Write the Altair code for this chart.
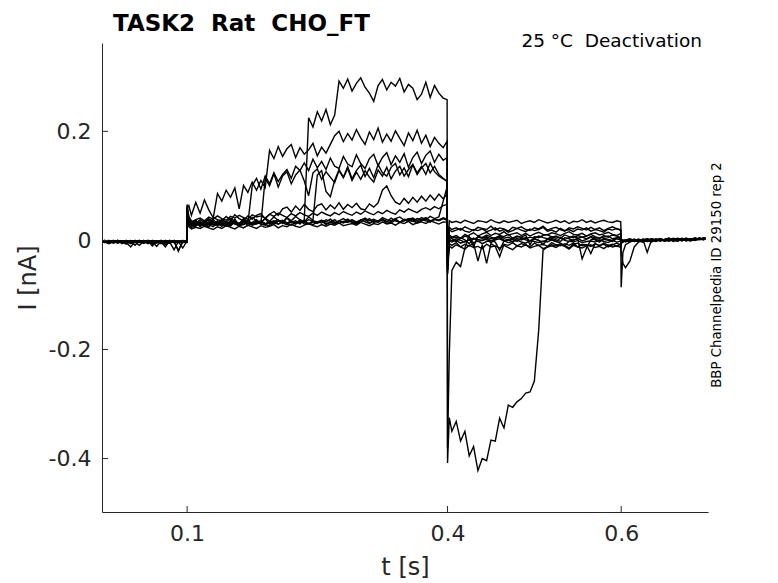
import altair as alt
import pandas as pd

# ---------------- text ----------------
NB = "\u00a0"  # keeps the double spaces of the original labels
TITLE = "TASK2" + NB + " Rat" + NB + " CHO_FT"
SUBTITLE = "25 °C" + NB + " Deactivation"
SIDE_NOTE = "BBP Channelpedia ID 29150 rep 2"
X_TITLE = "t [s]"
Y_TITLE = "I [nA]"
X_TICKS = [0.1, 0.4, 0.6]
Y_TICKS = [-0.4, -0.2, 0, 0.2]

# ---------------- sample times (s) per protocol segment ----------------
T_PRE = [0.002, 0.005, 0.01, 0.015, 0.02, 0.025, 0.03, 0.035, 0.04, 0.045, 0.05,
         0.055, 0.06, 0.065, 0.07, 0.075, 0.08, 0.085, 0.09, 0.095, 0.0995]
T_STEP = [0.1, 0.102, 0.105, 0.11, 0.115, 0.12, 0.125, 0.13, 0.135, 0.14, 0.145,
          0.15, 0.155, 0.16, 0.165, 0.17, 0.175, 0.18, 0.185, 0.19, 0.195, 0.2,
          0.205, 0.21, 0.215, 0.22, 0.225, 0.23, 0.235, 0.24, 0.245, 0.25, 0.255,
          0.26, 0.265, 0.27, 0.275, 0.28, 0.285, 0.29, 0.295, 0.3, 0.305, 0.31,
          0.315, 0.32, 0.325, 0.33, 0.335, 0.34, 0.345, 0.35, 0.355, 0.36, 0.365,
          0.37, 0.375, 0.38, 0.385, 0.39, 0.395, 0.3995]
T_TAIL = [0.4, 0.402, 0.405, 0.41, 0.415, 0.42, 0.425, 0.43, 0.435, 0.44, 0.445,
          0.45, 0.455, 0.46, 0.465, 0.47, 0.475, 0.48, 0.485, 0.49, 0.495, 0.5,
          0.505, 0.51, 0.515, 0.52, 0.525, 0.53, 0.535, 0.54, 0.545, 0.55, 0.555,
          0.56, 0.565, 0.57, 0.575, 0.58, 0.585, 0.59, 0.595, 0.5995]
T_END = [0.6, 0.602, 0.605, 0.61, 0.615, 0.62, 0.625, 0.63, 0.635, 0.64, 0.645,
         0.65, 0.655, 0.66, 0.665, 0.67, 0.675, 0.68, 0.685, 0.69, 0.695, 0.697]

# ---------------- currents (pA) ----------------
PRE = {
    "s1": [-1, -3, 0, -5, -2, -1, -4, -12, -2, 0, -3, -1, -6, -2, -1, -3, 0, -2, -18, -3, -1],
    "s2": [-2, -4, -1, -3, 0, -6, -2, -1, -3, -9, -2, 0, -4, -1, -2, -5, -1, -3, -2, -14, -2],
    "s3": [-3, -1, -5, -2, 0, -3, -7, -1, -2, -4, 0, -3, -2, -11, -1, -3, -5, 0, -2, -4, -3],
    "s4": [-2, 0, -4, -1, -3, -2, 0, -5, -1, -3, -2, -6, 0, -2, -4, -1, -3, -17, -2, -1, -3],
    "s5": [-1, -3, 0, -2, -4, -1, -2, 0, -3, -1, -5, -2, 0, -3, -1, -2, -4, 0, -2, -1, -3],
    "s6": [-2, -1, -4, 0, -3, -2, -1, -6, -2, 0, -3, -1, -2, -4, 0, -8, -2, -1, -3, 0, -2],
    "s7": [-3, 0, -2, -1, -4, -2, 0, -3, -1, -2, -5, 0, -2, -1, -3, -2, 0, -4, -1, -2, -1],
    "s8": [-4, -2, -1, -3, 0, -2, -5, -1, -3, -2, 0, -4, -1, -2, -3, -12, -1, -2, -4, 0, -2],
    "s9": [-1, -3, -6, -2, 0, -4, -1, -2, -9, -1, -3, 0, -2, -5, -1, -3, 0, -2, -20, -1, -2],
    "s10": [-2, -4, -1, 0, -3, -1, -5, -2, 0, -3, -1, -2, -7, -1, -3, 0, -2, -4, -1, -3, -2],
    "s11": [-3, -1, -2, -4, 0, -2, -1, -3, -2, 0, -4, -1, -3, -2, -6, 0, -2, -1, -3, -2, -4],
    "s12": [-2, 0, -3, -1, -5, -2, -1, -3, 0, -2, -4, -1, -10, -2, 0, -3, -1, -2, -4, -1, -3],
}

STEP = {
    "s1": [62, 42, 30, 36, 27, 34, 29, 38, 31, 26, 35, 30, 39, 28, 33, 37, 29, 36, 32, 40,
           30, 35, 38, 31, 41, 33, 36, 30, 38,
           225, 208, 236, 219, 240, 212, 230,
           292, 279, 296, 274, 288, 298, 281, 270, 255, 284, 295, 276, 290, 283, 297, 272,
           286, 279, 258, 268, 290, 262, 284, 270, 261, 258],
    "s2": [56, 38, 30, 37, 28, 34, 31, 40,
           86, 72, 92, 79, 96, 58, 101, 88, 107, 92, 110, 97,
           165, 150, 172, 154, 168, 176, 152, 170, 158, 166, 178, 155, 171, 160, 176,
           192, 200, 181, 196, 184, 203, 188, 176, 199, 185, 206, 180, 195, 182, 201, 187,
           174, 197, 183, 202, 178, 193, 172, 189, 178, 170, 182],
    "s3": [48, 36, 27, 35, 25, 33, 38, 28, 36, 29, 26, 37, 32, 28, 39, 31,
           100, 114, 94, 118, 104, 124, 108, 121, 130, 114, 136, 128,
           142, 128, 149, 133, 145, 130, 151, 136, 132, 154, 140, 135, 157, 141, 132, 150,
           158, 137, 152, 161, 139, 155, 143, 159, 134, 152, 162, 141, 156, 164, 143, 158,
           147, 152],
    "s4": [52, 36, 30, 26, 35, 29, 25, 34, 28, 36, 30, 26, 35, 28, 37, 27, 33, 38, 30,
           114, 100, 122, 98, 118, 126, 104, 120, 129, 109, 82, 124, 131, 112, 126, 116,
           106, 128, 115, 132, 110, 125, 112, 128, 116, 107, 129, 118, 134, 113, 127, 136,
           118, 130, 139, 121, 133, 141, 124, 136, 121, 114, 108],
    "s5": [66, 44, 36, 31, 38, 33, 40, 34, 30, 39, 33, 41, 35, 31, 40, 34, 42, 36, 32, 41,
           35, 43, 37, 33, 42, 36, 44, 38, 34, 43, 37,
           120, 128, 90, 80, 110, 130, 116, 135, 113, 128, 138, 117, 132, 115, 139, 124,
           118, 134, 141, 120, 133, 117, 139, 124, 136, 121, 142, 126, 118, 113, 108],
    "s6": [60, 64, 46, 70, 50, 74, 56, 42, 38, 36, 44, 37, 47, 40, 36, 45, 39, 46, 49, 40,
           48, 53, 46, 58, 61, 52, 63, 55, 66, 57, 53, 64, 67, 56, 65, 58, 69, 57, 66, 60,
           68, 58, 56, 67, 61, 69, 92, 100, 82, 70, 66, 77, 68, 79, 70, 81, 72, 83, 74, 85,
           76, 86],
    "s7": [45, 33, 29, 32, 27, 31, 34, 30, 28, 33, 30, 35, 31, 28, 34, 32, 29, 33, 36, 30,
           34, 31, 35, 37, 32, 34, 30, 36, 33, 38, 35, 31, 37, 34, 39, 33, 36, 40, 35, 38,
           34, 37, 41, 36, 39, 35, 42, 38, 36, 40, 43, 37, 39, 41, 36, 42, 38, 44, 40, 43,
           72, 98],
    "s8": [50, 40, 34, 38, 41, 36, 43, 39, 45, 40, 37, 44, 41, 46, 42, 39, 47, 43, 45, 41,
           48, 44, 50, 46, 42, 49, 45, 51, 47, 44, 50, 46, 52, 48, 45, 51, 47, 53, 49, 46,
           52, 48, 54, 50, 47, 53, 49, 55, 51, 48, 56, 52, 58, 54, 51, 57, 60, 56, 62, 58,
           64, 66],
    "s9": [40, 30, 26, 29, 32, 27, 30, 33, 28, 31, 29, 34, 30, 27, 32, 35, 29, 33, 30, 28,
           34, 31, 36, 32, 29, 35, 31, 33, 37, 30, 34, 32, 36, 29, 33, 38, 31, 35, 33, 37,
           30, 34, 39, 32, 36, 34, 38, 31, 35, 40, 33, 37, 35, 39, 32, 36, 41, 34, 38, 36,
           40, 37],
    "s10": [35, 28, 24, 27, 30, 26, 29, 25, 31, 28, 26, 30, 33, 27, 29, 32, 28, 31, 34, 29,
            27, 32, 30, 35, 31, 28, 33, 36, 30, 32, 29, 34, 37, 31, 33, 30, 35, 32, 36, 33,
            30, 38, 34, 31, 36, 33, 39, 35, 32, 37, 34, 36, 40, 35, 33, 38, 36, 34, 39, 37,
            41, 38],
    "s11": [30, 25, 21, 24, 22, 26, 23, 20, 25, 22, 27, 24, 21, 26, 23, 28, 25, 22, 27, 24,
            26, 29, 23, 27, 25, 30, 26, 24, 28, 31, 27, 25, 29, 26, 30, 28, 32, 27, 29, 31,
            28, 33, 30, 27, 31, 29, 34, 30, 32, 28, 33, 31, 35, 29, 32, 34, 31, 36, 33, 30,
            34, 33],
    "s12": [42, 31, 27, 30, 33, 28, 31, 29, 34, 30, 32, 28, 33, 31, 29, 35, 32, 30, 34, 31,
            33, 36, 30, 34, 32, 35, 31, 37, 33, 30, 36, 34, 32, 38, 35, 31, 36, 33, 39, 34,
            32, 37, 35, 40, 33, 36, 38, 34, 41, 36, 33, 39, 37, 35, 40, 38, 42, 36, 39, 37,
            41, 39],
}

TAIL = {
    "s1": [-408, -325, -350, -332, -368, -350, -395, -378, -422, -400, -404, -366, -368,
           -326, -344, -302, -306, -296, -290, -280, -278, -258, -165, -18,
           -12, -8, -10, -6, -9, -14, -7, -5, -10, -8, -11, -6, -9, -7, -12, -8, -5, -9],
    "s2": [-380, -210, -55, -40, -48, -14,
           10, 14, 8, 12, 15, 9, 13, 11, 16, 10, 12, 14, 9, 13, 8, 12, 15, 11, 10, 14,
           12, 9, 13, 16, 11, 10, 13, 8, 12, 14, 10, 12, 15, 11, 9, 13],
    "s3": [-45, 24, 20, 23, 19, 25, 21, 18, 24, 22, 20, 26, 19, 23, 21, 17, 24, 22, 25, 20,
           18, 23, 21, 26, 19, 22, 24, 20, 17, 23, 21, 25, 22, 19, 24, 20, 23, 18, 22, 25,
           21, 20],
    "s4": [-60, 10, 6, 9, 4, 11, 7, -12, 8, 5, 10, 6, 3, 9, 7, 11, 4, 8, 6, 10, -8, 7,
           5, 9, 11, 6, 8, 4, 10, 7, 5, 9, 6, 8, 11, 7, 4, 9, 6, 10, 8, 5],
    "s5": [-52, 2, -1, 3, 0, -3, 1, 4, -2, 0, 2, -4, 1, 3, -1, 0, 2, -2, 4, 1, -1, 3,
           0, -3, 2, 1, -2, 4, 0, -2, 1, 3, -34, -14, 1, 3, -1, 2, 0, -2, 3, 1],
    "s6": [-38, 20, 16, 19, 22, 17, 15, 20, 18, 21, 16, 19, 23, 17, 20, 15, 18, 22, 19, 16,
           21, 18, 20, 24, 17, 19, 15, 22, 18, 20, 16, 21, 19, 23, 17, 20, 18, 15, 21, 19,
           22, 18],
    "s7": [-20, 36, 33, 35, 32, 37, 34, 31, 36, 35, 33, 38, 34, 32, 36, 33, 35, 37, 31, 34,
           36, 33, 38, 35, 32, 34, 37, 33, 36, 31, 35, 34, 38, 33, 36, 32, 35, 37, 34, 33,
           36, 34],
    "s8": [-48, 6, 3, -2, 5, 1, -6, 4, 2, 0, 5, -1, 3, 6, 0, 2, -3, 4, 1, 5, -1, 3,
           0, -8, 2, 4, 1, -2, 5, 3, 0, 4, -1, 2, 6, 1, -3, 4, 2, 0, 5, 3],
    "s9": [-30, -6, -9, -4, -12, -7, -10, -5, -38, -8, -42, -6, -11, -30, -7, -9, -4, -10,
           -6, -8, -12, -5, -9, -7, -11, -4, -8, -10, -6, -9, -5, -12, -7, -8, -24, -6, -10,
           -5, -9, -7, -11, -6],
    "s10": [-55, -1, -3, 0, -5, -2, 1, -4, -1, -6, -2, 0, -3, -18, -1, -4, -2, 1, -3, -5,
            0, -2, -4, -1, -3, 1, -2, -5, -10, -1, -3, 0, -4, -2, -1, -3, 1, -2, -4, 0,
            -3, -1],
    "s11": [-40, 7, 4, 6, 3, 8, 5, 2, 6, 4, 7, 3, 5, 8, 4, 6, 2, 7, 5, 3, 6, 4, 8, 5, 3,
            7, 4, 6, 2, 5, 8, 4, 6, 3, 7, 5, 4, 6, 8, 3, 5, 6],
    "s12": [-62, -10, -14, -8, -12, -16, -9, -13, -11, -15, -7, -12, -10, -14, -9, -13, -17,
            -10, -12, -8, -14, -11, -9, -15, -12, -10, -13, -8, -11, -16, -9, -12, -14, -10,
            -8, -13, -11, -15, -9, -12, -10, -13],
}

END = {
    "s1": [-4, -2, 1, -1, 2, 0, -3, 1, 3, 0, 2, -1, 1, 4, 2, 0, 3, 1, 5, 2, 4, 3],
    "s2": [-2, 0, -3, 1, -1, 2, 0, -2, 3, 1, -1, 2, 4, 0, 1, 3, -1, 2, 4, 1, 3, 5],
    "s3": [-1, 1, -2, 0, 2, -1, 1, 3, 0, -2, 2, 1, 4, 0, 2, -1, 3, 1, 2, 4, 2, 4],
    "s4": [-86, -22, -8, -3, 0, -2, 1, -1, 2, 0, 3, 1, -1, 2, 4, 1, 0, 3, 2, 4, 3, 5],
    "s5": [-20, -42, -50, -38, -12, -3, 0, -2, 1, -1, 2, 0, 3, 1, -1, 2, 4, 1, 3, 2, 4, 3],
    "s6": [-3, 0, -1, 2, -2, 1, 0, 3, -1, 2, 1, -1, 3, 0, 2, 4, 1, 3, 0, 2, 5, 3],
    "s7": [2, -1, 1, 3, 0, -2, 2, 1, -1, 3, 0, 2, 4, 1, -1, 3, 2, 0, 4, 2, 3, 5],
    "s8": [-6, -3, 0, -2, 1, -1, 2, 0, -3, 1, 2, 0, 3, 1, -1, 2, 4, 1, 2, 3, 1, 4],
    "s9": [-2, 0, -1, 1, -2, 0, 2, -22, 1, 0, 3, -1, 2, 0, 1, 3, 1, -1, 2, 4, 2, 3],
    "s10": [-3, -1, 0, -2, 1, -1, 0, 2, -1, 1, 3, 0, -1, 2, 1, 3, 0, 2, 1, 4, 2, 3],
    "s11": [0, -2, 1, -1, 0, 2, -1, 1, 0, 2, -1, 1, 3, 0, 2, 1, 3, 0, 2, 4, 2, 4],
    "s12": [-1, -3, 0, -2, 1, -1, -3, 0, 2, -1, 1, 0, 2, -2, 1, 3, 0, 2, 1, 3, 2, 4],
}

# ---------------- table ----------------
TIMES = T_PRE + T_STEP + T_TAIL + T_END
rows = []
for name in PRE:
    assert len(PRE[name]) == len(T_PRE), (name, "pre", len(PRE[name]))
    assert len(STEP[name]) == len(T_STEP), (name, "step", len(STEP[name]))
    assert len(TAIL[name]) == len(T_TAIL), (name, "tail", len(TAIL[name]))
    assert len(END[name]) == len(T_END), (name, "end", len(END[name]))
    vals = PRE[name] + STEP[name] + TAIL[name] + END[name]
    for i, (t, v) in enumerate(zip(TIMES, vals)):
        rows.append({"trace": name, "i": i, "t": t, "I": v / 1000.0})
df = pd.DataFrame(rows)

W, H = 606, 469
FONT = "DejaVu Sans"
AX = "#262626"

xs = alt.Scale(domain=[0.002, 0.7], nice=False, zero=False)
ys = alt.Scale(domain=[-0.498, 0.362], nice=False, zero=False)

x_axis = alt.Axis(
    title=X_TITLE, values=X_TICKS, format=".1f", ticks=False, grid=False,
    labelFontSize=22, labelPadding=11, labelColor=AX, labelFont=FONT,
    labelOverlap=False, labelFlush=False,
    titleFontSize=24, titleFontWeight="normal", titleColor=AX, titleFont=FONT,
    titlePadding=11, domainColor=AX, domainWidth=1)
y_axis = alt.Axis(
    title=Y_TITLE, values=Y_TICKS, ticks=False, grid=False,
    labelExpr="datum.value == 0 ? '0' : (datum.value < 0 ? '-' + format(-datum.value, '.1f') : format(datum.value, '.1f'))",
    labelFontSize=22, labelPadding=11, labelColor=AX, labelFont=FONT,
    labelOverlap=False, labelFlush=False,
    titleFontSize=24, titleFontWeight="normal", titleColor=AX, titleFont=FONT,
    titlePadding=8, domainColor=AX, domainWidth=1)

lines = alt.Chart(df).mark_line(color="black", strokeWidth=1.4, clip=True).encode(
    x=alt.X("t:Q", scale=xs, axis=x_axis),
    y=alt.Y("I:Q", scale=ys, axis=y_axis),
    detail="trace:N",
    order="i:Q",
)

# inward tick marks (MATLAB style)
xticks = alt.Chart(pd.DataFrame({"t": X_TICKS})).mark_rule(color=AX, strokeWidth=1).encode(
    x=alt.X("t:Q", scale=xs, axis=x_axis), y=alt.value(H), y2=alt.value(H - 6))
yticks = alt.Chart(pd.DataFrame({"I": Y_TICKS})).mark_rule(color=AX, strokeWidth=1).encode(
    y=alt.Y("I:Q", scale=ys, axis=y_axis), x=alt.value(0), x2=alt.value(6))

one = pd.DataFrame({"k": [0]})
title = alt.Chart(one).mark_text(
    text=TITLE, font=FONT, fontSize=23, fontWeight="bold", color="black",
    align="left", baseline="alphabetic").encode(x=alt.value(11), y=alt.value(-12.5))
subtitle = alt.Chart(one).mark_text(
    text=SUBTITLE, font=FONT, fontSize=18.5, color="black",
    align="right", baseline="alphabetic").encode(x=alt.value(600), y=alt.value(3.5))
side = alt.Chart(one).mark_text(
    text=SIDE_NOTE, font=FONT, fontSize=13.3, color="black", angle=270,
    align="center", baseline="middle").encode(x=alt.value(614.5), y=alt.value(232))

chart = alt.layer(lines, xticks, yticks, title, subtitle, side).properties(
    width=W, height=H, autosize="none", background="white",
    padding={"left": 94, "top": 35, "right": 60, "bottom": 72},
).configure_view(stroke=None)

chart.save("out.html", embed_options={"renderer": "svg", "actions": False})
